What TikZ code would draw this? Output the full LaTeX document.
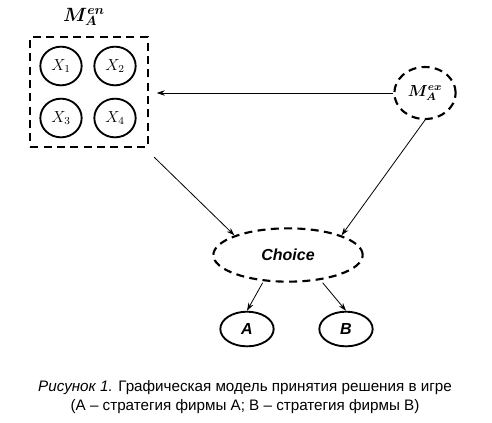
\documentclass[tikz,border=0pt]{standalone}
\usepackage{fontspec}
\usepackage{bm}
\setmainfont{Liberation Sans}
\usetikzlibrary{arrows.meta,positioning,shapes.geometric}
\tikzset{every picture/.style={line width=0.75pt}}
\tikzset{
  dashbox/.style={draw,dashed,line width=1.6pt,dash pattern=on 6pt off 4pt},
  varnode/.style={draw,ellipse,line width=1.4pt,minimum width=31pt,minimum height=29pt,inner sep=0pt,font=\large},
  stratnode/.style={draw,ellipse,line width=1.4pt,minimum width=40pt,minimum height=26pt,inner sep=0pt,font=\large\bfseries\itshape},
  link/.style={-{Stealth[length=6pt,width=4pt]},line width=0.6pt}
}

\begin{document}
\begin{tikzpicture}[x=0.75pt,y=-0.75pt]
    % canvas
    \useasboundingbox (0,0) rectangle (492,422);

    % Endogenous block with the four variables
    \node[dashbox,minimum width=88pt,minimum height=82pt] (en) at (89,92) {};
    \node[font=\Large] (enlab) at (84,17) {$\bm{M_A^{en}}$};
    \node[varnode] (x1) at (61,66) {$X_1$};
    \node[varnode] (x2) at (115,66) {$X_2$};
    \node[varnode] (x3) at (61,118) {$X_3$};
    \node[varnode] (x4) at (115,118) {$X_4$};

    % Exogenous factors
    \node[dashbox,ellipse,minimum width=46pt,minimum height=39pt,inner sep=0pt,font=\large] (ex) at (425,93) {$\bm{M_A^{ex}}$};

    % Decision
    \node[dashbox,ellipse,minimum width=112pt,minimum height=40pt,font=\large\bfseries\itshape] (choice) at (288,255) {Choice};

    % Strategies
    \node[stratnode] (a) at (247,329) {A};
    \node[stratnode] (b) at (346,329) {B};

    % Connectors
    \draw[link] (ex.west) -- ([xshift=6pt]en.east |- ex.west);
    \draw[link] ([xshift=4pt,yshift=-7pt]en.south east) -- (choice.north west);
    \draw[link] (ex.south) -- (choice.north east);
    \draw[link] ([xshift=-19pt]choice.south) -- (a.north);
    \draw[link] ([xshift=26pt]choice.south) -- (b.north);

    % Caption
    \node[font=\fontsize{11.4}{14}\selectfont,align=center] (cap) at (245,397)
      {\textit{Рисунок 1.} Графическая модель принятия решения в игре\\
       (А – стратегия фирмы А; В – стратегия фирмы В)};
\end{tikzpicture}
\end{document}
